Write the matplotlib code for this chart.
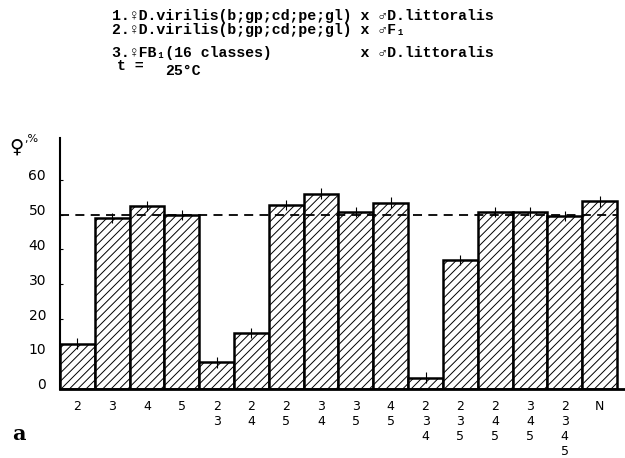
import matplotlib
matplotlib.use("Agg")
import matplotlib.pyplot as plt
import matplotlib.transforms as mtransforms

# bar labels (stacked digits) and female percentage per class
classes = ["2", "3", "4", "5", "2\n3", "2\n4", "2\n5", "3\n4", "3\n5", "4\n5",
           "2\n3\n4", "2\n3\n5", "2\n4\n5", "3\n4\n5", "2\n3\n4\n5", "N"]
female_pct = [13, 49, 52.5, 49.8, 7.6, 16, 52.8, 56, 50.8, 53.4,
              3.2, 37, 50.8, 50.7, 49.6, 53.8]
err = [1.5] * len(female_pct)
expected = 50
yticks = [0, 10, 20, 30, 40, 50, 60]

title_lines = [
    "1.\u2640D.virilis(b;gp;cd;pe;gl) x \u2642D.littoralis",
    "2.\u2640D.virilis(b;gp;cd;pe;gl) x \u2642F\u2081",
    "3.\u2640FB\u2081(16 classes)          x \u2642D.littoralis",
]

mono = ["Liberation Mono", "DejaVu Sans Mono"]
plt.rcParams["hatch.linewidth"] = 0.7

fig = plt.figure(figsize=(6.25, 4.58), dpi=100)
ax = fig.add_axes([0.096, 0.151, 0.904, 0.548])

x = list(range(len(classes)))
ax.bar(x, female_pct, width=1.0, color="white", edgecolor="black",
       linewidth=1.8, hatch="////", zorder=2)
ax.errorbar(x, female_pct, yerr=err, fmt="none", ecolor="black",
            elinewidth=0.8, capsize=0, zorder=3)
ax.plot([-0.5, len(classes) - 0.5], [expected, expected], color="black",
        linestyle=(0, (5, 3.5)), linewidth=1.3, zorder=4)

ax.set_xlim(-0.5, len(classes) - 0.27)
ax.set_ylim(0, 72)
ax.set_yticks(yticks)
ax.set_xticks(x)
ax.set_xticklabels(classes, fontsize=9, linespacing=1.2, va="top")
ax.tick_params(axis="x", length=0, pad=8)
ax.tick_params(axis="y", length=2, pad=10, labelsize=10, direction="in")
# the printed y labels sit a little above their gridline
shift = mtransforms.ScaledTranslation(0, 0.05, fig.dpi_scale_trans)
for lab in ax.get_yticklabels():
    lab.set_transform(lab.get_transform() + shift)

for s in ["top", "right"]:
    ax.spines[s].set_visible(False)
ax.spines["left"].set_linewidth(1.5)
ax.spines["bottom"].set_linewidth(2)

# header text
ys = [16, 30, 53]
for line, yy in zip(title_lines, ys):
    fig.text(112 / 625, 1 - yy / 458, line, family=mono, fontsize=10.7,
             fontweight="bold", va="center", ha="left")
fig.text(117 / 625, 1 - 66 / 458, "t =", family=mono, fontsize=10.7,
         fontweight="bold", va="center", ha="left")
fig.text(165 / 625, 1 - 71 / 458, "25\u00b0C", family=mono, fontsize=10.7,
         fontweight="bold", va="center", ha="left")

fig.text(9 / 625, 1 - 147 / 458, "\u2640", fontsize=14, va="center",
         ha="left")
fig.text(24 / 625, 1 - 139 / 458, ",%", fontsize=8, va="center",
         ha="left")
fig.text(12 / 625, 1 - 434 / 458, "a", fontsize=15, fontweight="bold",
         family="DejaVu Serif", va="center", ha="left")

fig.savefig("out.png", dpi=100)
